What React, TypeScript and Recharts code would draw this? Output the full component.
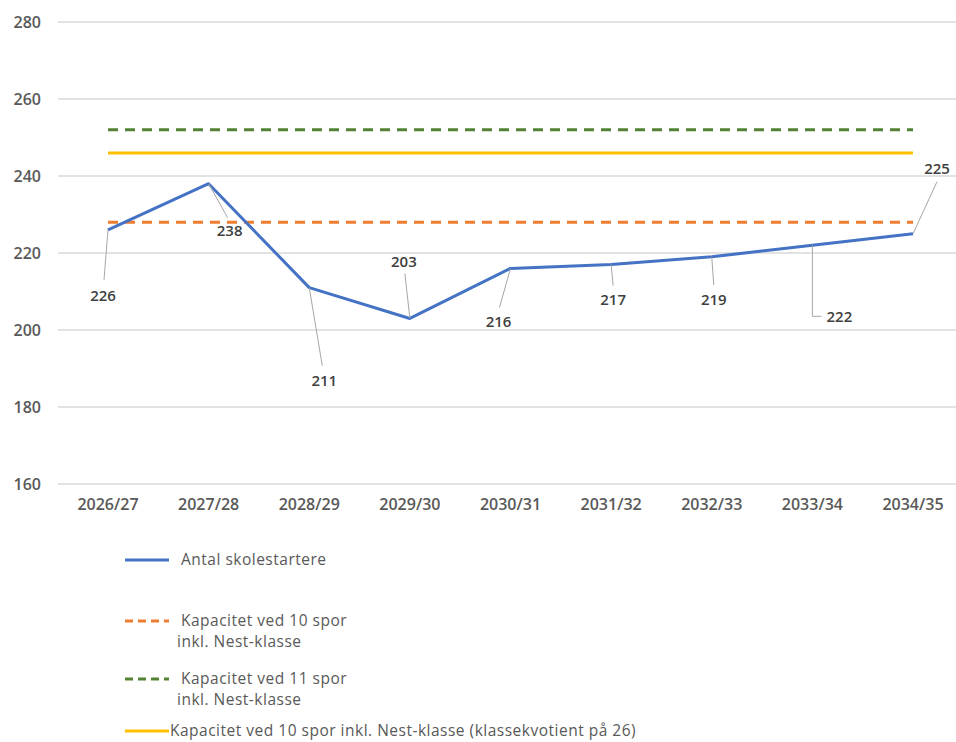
import React from 'react';
import { LineChart, Line, XAxis, YAxis, CartesianGrid, LabelList } from 'recharts';

const years = ['2026/27', '2027/28', '2028/29', '2029/30', '2030/31', '2031/32', '2032/33', '2033/34', '2034/35'];
const students = [226, 238, 211, 203, 216, 217, 219, 222, 225];
const capacity10 = [228, 228, 228, 228, 228, 228, 228, 228, 228];
const capacity11 = [252, 252, 252, 252, 252, 252, 252, 252, 252];
const capacity10q26 = [246, 246, 246, 246, 246, 246, 246, 246, 246];
const yTicks = [160, 180, 200, 220, 240, 260, 280];

const data = years.map((year, i) => ({
  year,
  students: students[i],
  cap10: capacity10[i],
  cap11: capacity11[i],
  cap26: capacity10q26[i],
}));

// where each data label sits relative to its point, and where the leader line ends
const labelPlacement = [
  { dx: -5, dy: 65, lx: -4, ly: 50 },
  { dx: 21, dy: 46, lx: 19, ly: 34 },
  { dx: 15, dy: 92, lx: 13, ly: 78 },
  { dx: -6, dy: -57, lx: -5, ly: -45 },
  { dx: -12, dy: 53, lx: -11, ly: 39 },
  { dx: 2, dy: 34, lx: 2, ly: 21 },
  { dx: 2, dy: 42, lx: 2, ly: 28 },
  { dx: 27, dy: 71, lx: 9, ly: 71, elbow: true },
  { dx: 24, dy: -66, lx: 24, ly: -52 },
];

const FONT = '"Open Sans", sans-serif';

const DataLabel = (props: any) => {
  const { x, y, value, index } = props;
  const p = labelPlacement[index];
  if (!p) return null;
  const leader = p.elbow
    ? `M${x},${y} L${x},${y + p.ly} L${x + p.lx},${y + p.ly}`
    : `M${x},${y} L${x + p.lx},${y + p.ly}`;
  return (
    <g>
      <path d={leader} stroke="#A6A6A6" strokeWidth={1} fill="none" />
      <text
        x={x + p.dx}
        y={y + p.dy}
        textAnchor="middle"
        dominantBaseline="central"
        fontFamily={FONT}
        fontWeight={600}
        fontSize={15}
        fill="#404040"
      >
        {value}
      </text>
    </g>
  );
};

const legendItems = [
  { color: '#4472C4', dash: undefined, lines: ['Antal skolestartere'], top: 560 },
  { color: '#ED7D31', dash: '8 5', lines: ['Kapacitet ved 10 spor', 'inkl. Nest-klasse'], top: 621 },
  { color: '#548235', dash: '8 5', lines: ['Kapacitet ved 11 spor', 'inkl. Nest-klasse'], top: 679 },
  { color: '#FFC000', dash: undefined, lines: ['Kapacitet ved 10 spor inkl. Nest-klasse (klassekvotient på 26)'], top: 731, tight: true },
];

const ChartLegend = () => (
  <>
    {legendItems.map((item) => (
      <div key={item.lines[0] + item.top} style={{ position: 'absolute', left: 0, top: 0 }}>
        <svg width={50} height={10} style={{ position: 'absolute', left: 124, top: item.top - 5 }}>
          <line x1={1} y1={5} x2={45} y2={5} stroke={item.color} strokeWidth={3} strokeDasharray={item.dash} />
        </svg>
        <div
          style={{
            position: 'absolute',
            left: item.tight ? 170 : 177,
            top: item.top - 11,
            whiteSpace: 'nowrap',
            fontFamily: FONT,
            fontSize: 15.5,
            letterSpacing: 0.5,
            lineHeight: '21px',
            color: '#595959',
          }}
        >
          {item.lines.map((t, j) => (
            <div key={t} style={{ paddingLeft: !item.tight && j === 0 ? 4 : 0 }}>
              {t}
            </div>
          ))}
        </div>
      </div>
    ))}
  </>
);

export default function App() {
  return (
    <div style={{ position: 'fixed', left: 0, top: 0, width: 956, height: 742, background: '#fff', overflow: 'hidden' }}>
      <LineChart width={956} height={530} data={data} margin={{ top: 22, right: 0, left: 0, bottom: 0 }}>
        <CartesianGrid vertical={false} stroke="#D9D9D9" strokeWidth={1.3} />
        <XAxis
          dataKey="year"
          height={46}
          axisLine={false}
          tickLine={false}
          tickSize={0}
          tickMargin={15}
          padding={{ left: 50, right: 43 }}
          tick={{ fill: '#595959', fontSize: 16, fontWeight: 600, fontFamily: FONT }}
        />
        <YAxis
          width={58}
          domain={[160, 280]}
          ticks={yTicks}
          axisLine={false}
          tickLine={false}
          tickSize={0}
          tickMargin={17}
          tick={{ fill: '#595959', fontSize: 16, fontWeight: 600, fontFamily: FONT }}
        />
        <Line dataKey="cap11" stroke="#548235" strokeWidth={3} strokeDasharray="10 7" dot={false} isAnimationActive={false} />
        <Line dataKey="cap26" stroke="#FFC000" strokeWidth={3} dot={false} isAnimationActive={false} />
        <Line dataKey="cap10" stroke="#ED7D31" strokeWidth={3} strokeDasharray="10 7" dot={false} isAnimationActive={false} />
        <Line dataKey="students" stroke="#4472C4" strokeWidth={3} dot={false} strokeLinejoin="round" isAnimationActive={false}>
          <LabelList dataKey="students" content={(p: any) => <DataLabel {...p} />} />
        </Line>
      </LineChart>
      <ChartLegend />
    </div>
  );
}
